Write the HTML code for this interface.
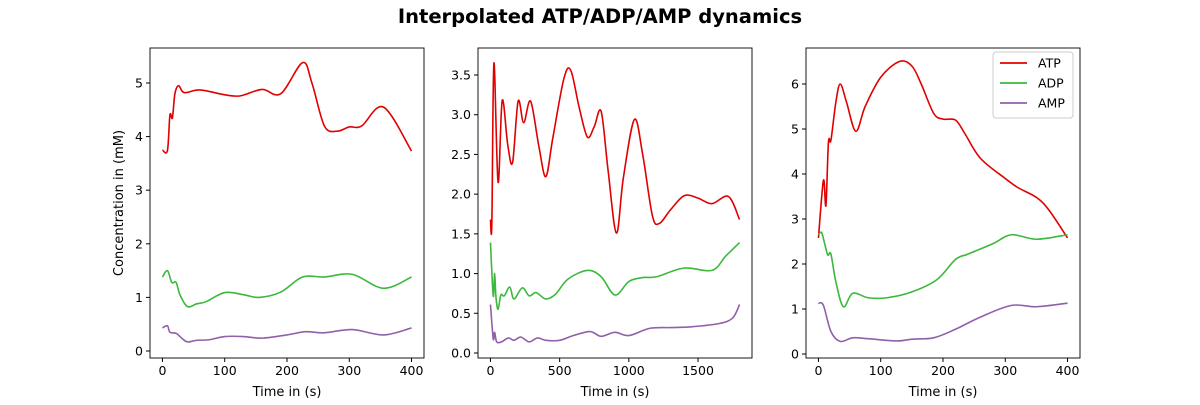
<!DOCTYPE html>
<html><head><meta charset="utf-8"><style>
body{margin:0;background:#fff;font-family:"Liberation Sans","DejaVu Sans",sans-serif}
svg text{font-family:"DejaVu Sans","Liberation Sans",sans-serif;fill:#000}
</style></head><body>
<svg id="c" width="1200" height="400">
<text x="600" y="23" text-anchor="middle" font-size="19.5" font-weight="bold">Interpolated ATP/ADP/AMP dynamics</text>
</svg>
<script>
const p1ATP=[[0,3.75],[8,3.74],[12,4.4],[16,4.35],[20,4.8],[26,4.95],[35,4.82],[60,4.87],[100,4.78],[125,4.76],[160,4.88],[190,4.8],[225,5.38],[240,5.0],[260,4.2],[280,4.1],[300,4.18],[320,4.2],[355,4.55],[400,3.73]];
const p1ADP=[[0,1.38],[8,1.5],[15,1.28],[22,1.28],[28,1.05],[40,0.83],[55,0.88],[70,0.92],[100,1.09],[130,1.05],[155,1.0],[190,1.1],[225,1.38],[260,1.38],[305,1.43],[355,1.17],[400,1.38]];
const p1AMP=[[0,0.43],[8,0.47],[12,0.35],[22,0.33],[30,0.25],[40,0.17],[55,0.2],[75,0.21],[100,0.27],[130,0.27],[160,0.24],[200,0.3],[230,0.36],[260,0.34],[305,0.4],[355,0.3],[400,0.43]];
const p2ATP=[[0,1.68],[10,1.63],[25,3.65],[55,2.15],[85,3.18],[125,2.62],[160,2.4],[200,3.17],[240,2.9],[290,3.17],[350,2.6],[400,2.22],[450,2.7],[530,3.45],[580,3.56],[640,3.1],[700,2.72],[750,2.85],[800,3.04],[850,2.3],[910,1.51],[960,2.2],[1040,2.94],[1100,2.5],[1170,1.73],[1220,1.63],[1300,1.8],[1400,1.98],[1500,1.95],[1600,1.88],[1720,1.97],[1800,1.68]];
const p2ADP=[[0,1.39],[20,0.72],[30,1.0],[40,0.7],[55,0.55],[75,0.73],[100,0.72],[140,0.83],[170,0.68],[230,0.82],[280,0.72],[330,0.76],[400,0.68],[470,0.74],[560,0.93],[700,1.04],[800,0.96],[900,0.73],[1000,0.9],[1100,0.95],[1200,0.96],[1400,1.07],[1600,1.04],[1700,1.22],[1800,1.39]];
const p2AMP=[[0,0.61],[20,0.18],[30,0.26],[45,0.14],[80,0.14],[130,0.19],[170,0.16],[220,0.2],[280,0.14],[340,0.19],[400,0.16],[500,0.16],[600,0.22],[720,0.27],[800,0.21],[900,0.26],[1000,0.22],[1150,0.31],[1300,0.32],[1450,0.33],[1650,0.37],[1750,0.44],[1800,0.61]];
const p3ATP=[[0,2.58],[8,3.86],[12,3.3],[16,4.7],[20,4.75],[28,5.6],[35,6.0],[45,5.6],[60,4.95],[75,5.5],[100,6.15],[130,6.5],[150,6.4],[165,6.0],[185,5.35],[200,5.22],[220,5.2],[235,4.9],[260,4.35],[300,3.9],[320,3.7],[350,3.48],[370,3.2],[400,2.58]];
const p3ADP=[[0,2.65],[5,2.7],[10,2.45],[15,2.2],[20,2.22],[28,1.6],[40,1.05],[55,1.35],[80,1.25],[110,1.25],[150,1.38],[190,1.65],[220,2.1],[240,2.22],[280,2.45],[310,2.65],[350,2.55],[400,2.65]];
const p3AMP=[[0,1.13],[8,1.08],[20,0.5],[35,0.28],[55,0.36],[80,0.34],[125,0.29],[150,0.33],[185,0.36],[220,0.55],[260,0.82],[310,1.08],[350,1.05],[400,1.13]];
const xTicks1=[0,100,200,300,400], yTicks1=[0,1,2,3,4,5];
const xTicks2=[0,500,1000,1500], yTicks2=[0,0.5,1,1.5,2,2.5,3,3.5];
const xTicks3=[0,100,200,300,400], yTicks3=[0,1,2,3,4,5,6];
const svg=document.getElementById('c'),NS='http://www.w3.org/2000/svg';
function mk(t,a,par){const e=document.createElementNS(NS,t);for(const k in a)e.setAttribute(k,a[k]);(par||svg).appendChild(e);return e;}
const colors={ATP:'#e00000',ADP:'#3cb83c',AMP:'#9060a8'};
function panel(i,L,R,x0,x1,yv0,yp0,yv1,yp1,xt,yt,series,fmt){
  const T=48,B=358;
  const g=mk('g',{});
  
  
  const X=v=>L+(v-x0)/(x1-x0)*(R-L);
  const Y=v=>yp0+(v-yv0)/(yv1-yv0)*(yp1-yp0);
  for(const name in series){
    const pts=series[name].map(p=>[X(p[0]),Y(p[1])]);
    let d='M'+pts[0][0]+','+pts[0][1];
    for(let k=0;k<pts.length-1;k++){
      const p0=pts[Math.max(0,k-1)],p1=pts[k],p2=pts[k+1],p3=pts[Math.min(pts.length-1,k+2)];
      const c1=[p1[0]+(p2[0]-p0[0])/6,p1[1]+(p2[1]-p0[1])/6],c2=[p2[0]-(p3[0]-p1[0])/6,p2[1]-(p3[1]-p1[1])/6];
      d+=`C${c1[0]},${c1[1]} ${c2[0]},${c2[1]} ${p2[0]},${p2[1]}`;
    }
    const pa=mk('path',{d,fill:'none',stroke:colors[name],'stroke-width':1.6},g);
    
    
  }
  const fr=mk('rect',{x:L,y:T,width:R-L,height:B-T,fill:'none',stroke:'#000','stroke-width':0.9},g);
  
  
  xt.forEach(v=>{const x=X(v);mk('line',{x1:x,x2:x,y1:B,y2:B+4,stroke:'#000'},g);
    const t=mk('text',{x,y:B+17,'text-anchor':'middle','font-size':12.5},g);t.textContent=v;
    
    });
  yt.forEach(v=>{const y=Y(v);mk('line',{x1:L-4,x2:L,y1:y,y2:y,stroke:'#000'},g);
    const t=mk('text',{x:L-7,y:y+4.5,'text-anchor':'end','font-size':12.5},g);t.textContent=fmt(v);
    
    });
  const xl=mk('text',{x:(L+R)/2,y:396,'text-anchor':'middle','font-size':13},g);xl.textContent='Time in (s)';
  
  
}
panel(1,150,424,-20,420,0,351,5,83,xTicks1,yTicks1,{ATP:p1ATP,ADP:p1ADP,AMP:p1AMP},v=>v);
panel(2,478,752,-90,1890,0,353,3.5,75,xTicks2,yTicks2,{ATP:p2ATP,ADP:p2ADP,AMP:p2AMP},v=>v.toFixed(1));
panel(3,806,1080,-20,420,0,354,6,84,xTicks3,yTicks3,{ATP:p3ATP,ADP:p3ADP,AMP:p3AMP},v=>v);
const yl=mk('text',{x:123,y:203,'text-anchor':'middle','font-size':13,transform:'rotate(-90 123 203)'});
yl.textContent='Concentration in (mM)';


const lg=mk('g',{});


mk('rect',{x:993,y:52,width:80,height:66,rx:3,fill:'#fff',stroke:'#ccc'},lg);
['ATP','ADP','AMP'].forEach((n,k)=>{const y=63+k*20;
  mk('line',{x1:1000,x2:1027,y1:y,y2:y,stroke:colors[n],'stroke-width':1.8},lg);
  const t=mk('text',{x:1038,y:y+4.5,'font-size':12.5},lg);t.textContent=n;
  
  });
</script>
</body></html>
